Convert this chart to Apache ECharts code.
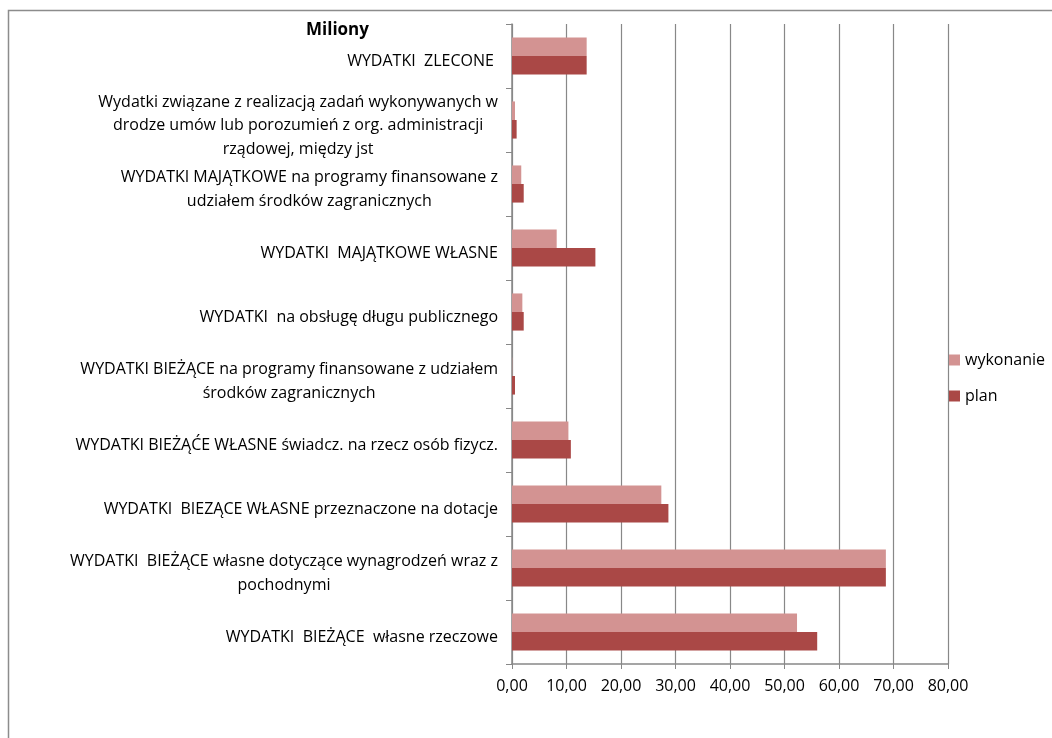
<!DOCTYPE html>
<html>
<head>
<meta charset="utf-8">
<script src="https://cdn.jsdelivr.net/npm/echarts@6/dist/echarts.min.js"></script>
<style>
html,body{margin:0;padding:0;background:#fff;}
#chart{width:1052px;height:738px;}
</style>
</head>
<body>
<div id="chart"></div>
<script>
// Categories from top to bottom (as in the reference)
const categories = [
  "WYDATKI  ZLECONE ",
  "Wydatki związane z realizacją zadań wykonywanych w\ndrodze umów lub porozumień z org. administracji\nrządowej, między jst",
  "WYDATKI MAJĄTKOWE na programy finansowane z\nudziałem środków zagranicznych",
  "WYDATKI  MAJĄTKOWE WŁASNE",
  "WYDATKI  na obsługę długu publicznego",
  "WYDATKI BIEŻĄCE na programy finansowane z udziałem\nśrodków zagranicznych",
  "WYDATKI BIEŻĄĆE WŁASNE świadcz. na rzecz osób fizycz.",
  "WYDATKI  BIEZĄCE WŁASNE przeznaczone na dotacje",
  "WYDATKI  BIEŻĄCE własne dotyczące wynagrodzeń wraz z\npochodnymi",
  "WYDATKI  BIEŻĄCE  własne rzeczowe"
];
const wykonanie = [13.7, 0.55, 1.7, 8.2, 1.9, 0.05, 10.35, 27.4, 68.6, 52.3];
const plan      = [13.7, 0.85, 2.15, 15.3, 2.15, 0.55, 10.8, 28.7, 68.6, 56.0];
const xTicks = [0, 10, 20, 30, 40, 50, 60, 70, 80];

const FONT = "'Open Sans', 'Liberation Sans', sans-serif";
const chart = echarts.init(document.getElementById('chart'));
chart.setOption({
  animation: false,
  textStyle: { fontFamily: FONT },
  graphic: [
    { type: 'rect', shape: { x: 8.5, y: 10.5, width: 1200, height: 900 },
      style: { fill: 'none', stroke: '#8c8c8c', lineWidth: 1.5 }, silent: true },
    { type: 'text', left: 306, top: 22,
      style: { text: 'Miliony', font: "bold 17px " + FONT, fill: '#000' } }
  ],
  legend: {
    orient: 'vertical', left: 944, top: 347,
    itemWidth: 11, itemHeight: 11, itemGap: 20,
    icon: 'rect',
    textStyle: { fontSize: 16, color: '#000', fontFamily: FONT },
    data: ['wykonanie', 'plan']
  },
  grid: { left: 512, right: 104, top: 24, bottom: 74, containLabel: false },
  xAxis: {
    type: 'value', min: xTicks[0], max: xTicks[xTicks.length - 1], interval: 10,
    axisLine: { show: true, lineStyle: { color: '#888', width: 1.5 } },
    axisTick: { show: true, length: 5, inside: false, lineStyle: { color: '#888' } },
    splitLine: { show: true, lineStyle: { color: '#888', width: 1.2 } },
    axisLabel: { color: '#000', fontSize: 16, margin: 14,
      formatter: v => v.toFixed(2).replace('.', ',') }
  },
  yAxis: {
    type: 'category', inverse: true, data: categories,
    axisLine: { show: true, lineStyle: { color: '#888', width: 1.5 } },
    axisTick: { show: true, length: 6, lineStyle: { color: '#888' } },
    splitLine: { show: false },
    axisLabel: {
      color: '#000', fontSize: 16, margin: 14, lineHeight: 23.5,
      padding: [11, 0, 0, 0],
      formatter: v => v.split('\n').map(l => '{c|' + l + '}').join('\n'),
      rich: { c: { align: 'center', fontSize: 16, lineHeight: 23.5, color: '#000' } }
    }
  },
  series: [
    { name: 'wykonanie', type: 'bar', data: wykonanie, barGap: '0%', barCategoryGap: '42%',
      itemStyle: { color: '#D39392' } },
    { name: 'plan', type: 'bar', data: plan, barGap: '0%', barCategoryGap: '42%',
      itemStyle: { color: '#AA4846' } }
  ]
});
</script>
</body>
</html>
